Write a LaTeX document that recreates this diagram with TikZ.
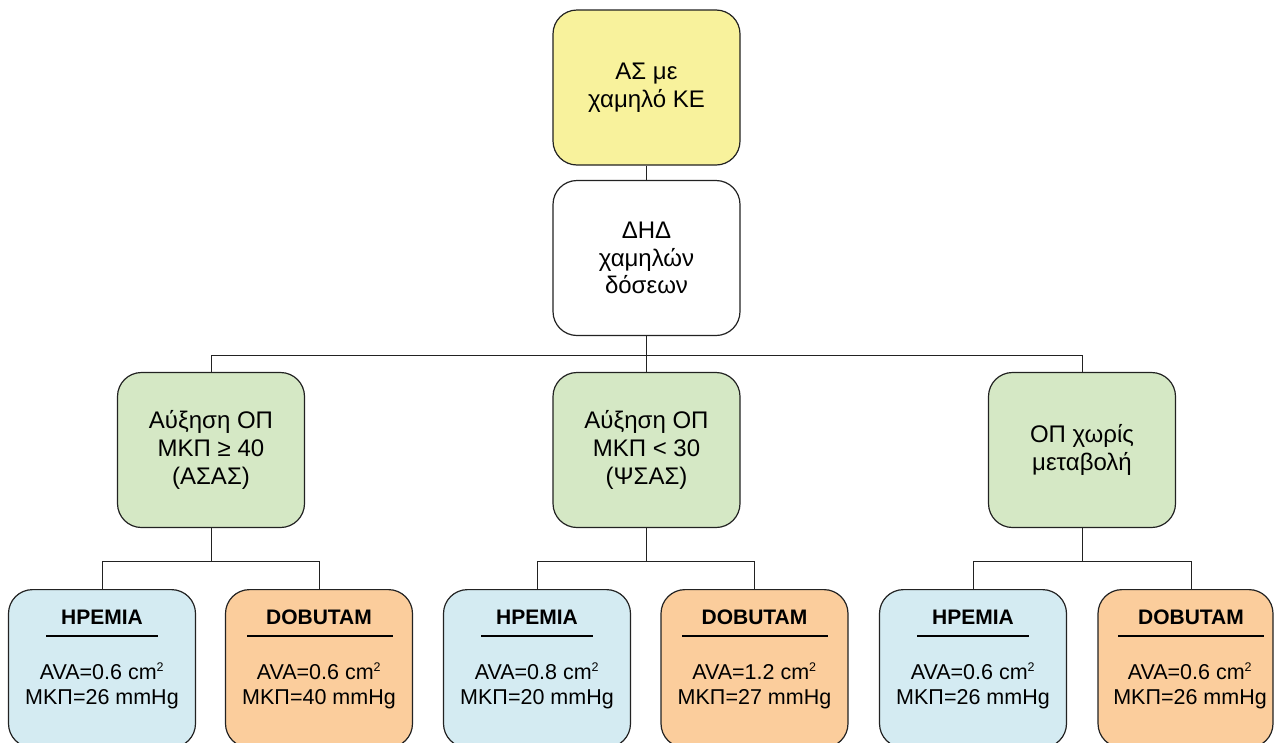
\documentclass[tikz,border=0pt]{standalone}
\usepackage{fontspec}
\setmainfont{Liberation Sans}
\definecolor{cyellow}{HTML}{F8F29C}
\definecolor{cgreen}{HTML}{D5E8C5}
\definecolor{cblue}{HTML}{D4EBF2}
\definecolor{corange}{HTML}{FBCD9C}
\definecolor{cline}{HTML}{222222}
\tikzset{
  box/.style={draw=cline, line width=1.2pt, rounded corners=24pt, minimum width=187pt, minimum height=155pt, inner sep=0pt, align=center, font=\fontsize{24}{27.8}\selectfont},
  lowbox/.style={box, anchor=north, minimum height=158pt},
  title/.style={font=\fontsize{21}{24}\selectfont\bfseries, inner sep=0pt},
  vals/.style={font=\fontsize{21.5}{25}\selectfont, align=center, inner sep=0pt},
  conn/.style={draw=cline, line width=1pt},
  uline/.style={draw=black, line width=2.2pt}
}
\newcommand{\sqr}{\textsuperscript{\fontsize{12.5}{12.5}\selectfont 2}}
\begin{document}
\begin{tikzpicture}[x=1pt,y=-1pt]
\useasboundingbox (0,0) rectangle (1274,742);
\clip (0,0) rectangle (1274,742);
% top
\node[box, fill=cyellow] (top) at (646.5,87.5) {ΑΣ με\\χαμηλό ΚΕ};
\node[box, fill=white] (dhd) at (646.5,258) {ΔΗΔ\\χαμηλών\\δόσεων};
% green
\node[box, fill=cgreen] (g1) at (211,450) {Αύξηση ΟΠ\\ΜΚΠ ≥ 40\\(ΑΣΑΣ)};
\node[box, fill=cgreen] (g2) at (646.5,450) {Αύξηση ΟΠ\\ΜΚΠ < 30\\(ΨΣΑΣ)};
\node[box, fill=cgreen] (g3) at (1082,450) {ΟΠ χωρίς\\μεταβολή};
% bottom boxes
\node[lowbox, fill=cblue] (b1) at (102,589) {};
\node[lowbox, fill=corange] (b2) at (319,589) {};
\node[lowbox, fill=cblue] (b3) at (537,589) {};
\node[lowbox, fill=corange] (b4) at (754.5,589) {};
\node[lowbox, fill=cblue] (b5) at (973,589) {};
\node[lowbox, fill=corange, minimum width=175pt] (b6) at (1185.5,589) {};
% connectors
\draw[conn] (top.south) -- (dhd.north);
\draw[conn] (dhd.south) -- (g2.north);
\draw[conn] (dhd.south) -- ++(0,19) coordinate (hub) -| (g1.north);
\draw[conn] (hub) -| (g3.north);
\draw[conn] (g1.south) -- ++(0,33) coordinate (h1) -| (b1.north);
\draw[conn] (h1) -| (b2.north);
\draw[conn] (g2.south) -- ++(0,33) coordinate (h2) -| (b3.north);
\draw[conn] (h2) -| (b4.north);
\draw[conn] (g3.south) -- ++(0,33) coordinate (h3) -| (b5.north);
\draw[conn] (h3) -| (1191,589);
% texts in bottom boxes
\node[title] (t1) at (102,617) {ΗΡΕΜΙΑ};
\node[title] (t2) at (319,617) {DOBUTAM};
\node[title] (t3) at (537,617) {ΗΡΕΜΙΑ};
\node[title] (t4) at (754.5,617) {DOBUTAM};
\node[title] (t5) at (973,617) {ΗΡΕΜΙΑ};
\node[title] (t6) at (1191,617) {DOBUTAM};
\draw[uline] (46,636) -- (158,636);
\draw[uline] (247,636) -- (393,636);
\draw[uline] (481,636) -- (593,636);
\draw[uline] (682,636) -- (828,636);
\draw[uline] (917,636) -- (1029,636);
\draw[uline] (1118,636) -- (1264,636);
\node[vals] (v1) at (102,686) {AVA=0.6 cm\sqr\\ΜΚΠ=26 mmHg};
\node[vals] (v2) at (319,686) {AVA=0.6 cm\sqr\\ΜΚΠ=40 mmHg};
\node[vals] (v3) at (537,686) {AVA=0.8 cm\sqr\\ΜΚΠ=20 mmHg};
\node[vals] (v4) at (754.5,686) {AVA=1.2 cm\sqr\\ΜΚΠ=27 mmHg};
\node[vals] (v5) at (973,686) {AVA=0.6 cm\sqr\\ΜΚΠ=26 mmHg};
\node[vals] (v6) at (1190,686) {AVA=0.6 cm\sqr\\ΜΚΠ=26 mmHg};
\end{tikzpicture}
\end{document}
